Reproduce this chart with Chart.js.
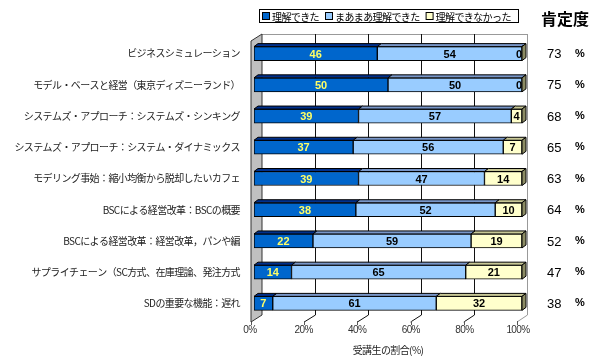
<!DOCTYPE html>
<html>
<head>
<meta charset="utf-8">
<script src="https://cdn.jsdelivr.net/npm/chart.js@4.4.0/dist/chart.umd.min.js"></script>
<style>
  html, body { margin: 0; padding: 0; background: #fff; }
  canvas { display: block; }
</style>
</head>
<body>
<canvas id="chart" width="592" height="363"></canvas>
<script>
// chart data
const categories = [
    'ビジネスシミュレーション',
    'モデル・ベースと経営（東京ディズニーランド）',
    'システムズ・アプローチ：システムズ・シンキング',
    'システムズ・アプローチ：システム・ダイナミックス',
    'モデリング事始：縮小均衡から脱却したいカフェ',
    'BSCによる経営改革：BSCの概要',
    'BSCによる経営改革：経営改革，パンや編',
    'サプライチェーン（SC方式、在庫理論、発注方式',
    'SDの重要な機能：遅れ'
];
const understood = [46, 50, 39, 37, 39, 38, 22, 14, 7];
const mostlyUnderstood = [54, 50, 57, 56, 47, 52, 59, 65, 61];
const notUnderstood = [0, 0, 4, 7, 14, 10, 19, 21, 32];
const affirmative = [73, 75, 68, 65, 63, 64, 52, 47, 38];
const xTicks = [0, 20, 40, 60, 80, 100];

const seriesLabels = ['理解できた', 'まあまあ理解できた', '理解できなかった'];
const frontColors = ['#0066CC', '#99CCFF', '#FFFFCC'];
const topColors = ['#00308C', '#7896C8', '#C8C896'];
const sideColor = '#8C8C64';
const JP = '"Noto Sans CJK JP"';

// bar depth (pixels)
const BAR_DX = 4, BAR_DY = 3;

function backX(area, px) {
    return px + 8 - (px - area.left) * 0.012;
}

function frontX(area, px) {
    return px - 3 - (px - area.left) * 0.0075;
}

function line(ctx, x1, y1, x2, y2) {
    ctx.beginPath();
    ctx.moveTo(x1, y1);
    ctx.lineTo(x2, y2);
    ctx.stroke();
}

function poly(ctx, pts, fill) {
    ctx.beginPath();
    ctx.moveTo(pts[0][0], pts[0][1]);
    for (let i = 1; i < pts.length; i++) ctx.lineTo(pts[i][0], pts[i][1]);
    ctx.closePath();
    ctx.fillStyle = fill;
    ctx.fill();
    ctx.stroke();
}

// tighter text for the axis labels (drawn before the datasets)
const textSpacing = {
    id: 'textSpacing',
    beforeDraw(chart) {
        chart.ctx.letterSpacing = '-0.6px';
    },
    beforeDatasetsDraw(chart) {
        chart.ctx.letterSpacing = '0px';
    }
};

// back wall, side wall and floor
const walls = {
    id: 'walls',
    beforeDatasetsDraw(chart) {
        const ctx = chart.ctx;
        const a = chart.chartArea;
        const x = chart.scales.x;
        const bTop = a.top - 4, bBot = a.bottom - 4;
        const fTop = a.top + 3, fBot = a.bottom + 3;
        ctx.save();
        ctx.lineWidth = 1;

        // back wall frame
        ctx.strokeStyle = '#999';
        const br = Math.round(backX(a, a.right)) + 0.5;
        line(ctx, backX(a, a.left), bTop + 0.5, br, bTop + 0.5);
        line(ctx, br, bTop, br, bBot);
        line(ctx, br, bBot, frontX(a, a.right), fBot);

        // grid lines on back wall + floor
        ctx.strokeStyle = '#111';
        xTicks.slice(1, -1).forEach(v => {
            const px = x.getPixelForValue(v);
            const bx = Math.round(backX(a, px)) + 0.5;
            line(ctx, bx, bTop, bx, bBot);
            line(ctx, bx, bBot, frontX(a, px), fBot);
        });
        ctx.strokeStyle = '#555';
        xTicks.forEach(v => {
            const fx = Math.round(frontX(a, x.getPixelForValue(v))) + 0.5;
            line(ctx, fx, fBot - 1, fx, fBot + 3);
        });

        // left side wall
        ctx.strokeStyle = '#333';
        const l0 = frontX(a, a.left), l1 = backX(a, a.left);
        poly(ctx, [[l0, fTop], [l1, bTop], [l1, bBot], [l0, fBot]], '#C0C0C0');
        ctx.restore();
    }
};

// top and side faces + value labels
const barFaces = {
    id: 'barFaces',
    afterDatasetsDraw(chart) {
        const ctx = chart.ctx;
        ctx.save();
        ctx.lineWidth = 1;
        ctx.strokeStyle = '#000';
        const last = chart.data.datasets.length - 1;
        chart.data.datasets.forEach((ds, i) => {
            chart.getDatasetMeta(i).data.forEach(el => {
                const p = el.getProps(['x', 'y', 'base', 'height'], true);
                const y0 = p.y - p.height / 2, y1 = p.y + p.height / 2;
                poly(ctx, [[p.base, y0], [p.x, y0], [p.x + BAR_DX, y0 - BAR_DY], [p.base + BAR_DX, y0 - BAR_DY]], topColors[i]);
                if (i === last) {
                    poly(ctx, [[p.x, y0], [p.x + BAR_DX, y0 - BAR_DY], [p.x + BAR_DX, y1 - BAR_DY], [p.x, y1]], sideColor);
                }
            });
        });

        ctx.font = 'bold 11px "Liberation Sans"';
        ctx.textAlign = 'center';
        ctx.textBaseline = 'middle';
        chart.data.datasets.forEach((ds, i) => {
            chart.getDatasetMeta(i).data.forEach((el, j) => {
                const p = el.getProps(['x', 'y', 'base'], true);
                const v = ds.data[j];
                let cx = (p.x + p.base) / 2;
                if (v === 0) cx -= 3;
                ctx.fillStyle = i === 0 ? '#FFFF66' : '#000';
                ctx.fillText(String(v), cx, p.y + 1);
            });
        });
        ctx.restore();
    }
};

// legend box and "肯定度" column
const extras = {
    id: 'extras',
    afterDraw(chart) {
        const ctx = chart.ctx;
        const a = chart.chartArea;
        const y = chart.scales.y;
        ctx.save();

        // legend
        ctx.font = '10px ' + JP;
        ctx.letterSpacing = '-0.6px';
        const widths = seriesLabels.map(t => ctx.measureText(t).width);
        let total = 4;
        widths.forEach(w => { total += 10 + w + 6; });
        let lx = Math.round((a.left + a.right) / 2 - total / 2);
        const ly = 16;
        ctx.lineWidth = 1;
        ctx.strokeStyle = '#000';
        ctx.strokeRect(lx + 0.5, 9.5, Math.round(total), 13);
        let cx = lx + 3;
        ctx.textBaseline = 'middle';
        ctx.textAlign = 'left';
        seriesLabels.forEach((t, i) => {
            ctx.fillStyle = frontColors[i];
            ctx.fillRect(cx + 0.5, ly - 3.5, 7, 7);
            ctx.strokeRect(cx + 0.5, ly - 3.5, 7, 7);
            ctx.fillStyle = '#000';
            ctx.fillText(t, cx + 10, ly + 1);
            cx += 10 + widths[i] + 6;
        });

        // affirmative ratio column
        ctx.letterSpacing = '0px';
        ctx.fillStyle = '#000';
        ctx.font = 'bold 16px ' + JP;
        ctx.fillText('肯定度', a.right + 19, 19);
        affirmative.forEach((v, i) => {
            const py = y.getPixelForValue(i);
            ctx.font = '13px "Liberation Sans"';
            ctx.fillText(String(v), a.right + 25, py + 1);
            ctx.font = 'bold 11px "Liberation Sans"';
            ctx.fillText('%', a.right + 53, py);
        });
        ctx.restore();
    }
};

function makeDataset(label, values, idx) {
    return {
        label: label,
        data: values,
        backgroundColor: frontColors[idx],
        borderColor: '#000',
        borderWidth: 1,
        borderSkipped: false,
        barThickness: 14
    };
}

const canvas = document.getElementById('chart');
const chart = new Chart(canvas.getContext('2d'), {
    type: 'bar',
    data: {
        labels: categories,
        datasets: [
            makeDataset(seriesLabels[0], understood, 0),
            makeDataset(seriesLabels[1], mostlyUnderstood, 1),
            makeDataset(seriesLabels[2], notUnderstood, 2)
        ]
    },
    options: {
        indexAxis: 'y',
        responsive: false,
        animation: false,
        devicePixelRatio: 1,
        layout: { padding: { top: 38, right: 70, left: 0, bottom: 0 } },
        plugins: {
            legend: { display: false },
            tooltip: { enabled: false }
        },
        scales: {
            x: {
                stacked: true,
                min: 0,
                max: 100,
                grid: { display: false, drawTicks: false },
                border: { display: false },
                ticks: {
                    stepSize: 20,
                    callback: v => v + '%',
                    labelOffset: -4,
                    padding: 5,
                    color: '#333',
                    font: { size: 10, family: 'Liberation Sans' }
                },
                title: {
                    display: true,
                    text: '受講生の割合(%)',
                    color: '#222',
                    font: { size: 10, family: 'Noto Sans CJK JP' },
                    padding: { top: 4, bottom: 7 }
                },
                afterFit(scale) { scale.height = 44; }
            },
            y: {
                stacked: true,
                grid: { display: false, drawTicks: false },
                border: { display: false },
                ticks: {
                    autoSkip: false,
                    padding: 14,
                    color: '#222',
                    font: { size: 10, family: 'Noto Sans CJK JP' }
                },
                afterFit(scale) { scale.width = 254; }
            }
        }
    },
    plugins: [textSpacing, walls, barFaces, extras]
});
</script>
</body>
</html>
